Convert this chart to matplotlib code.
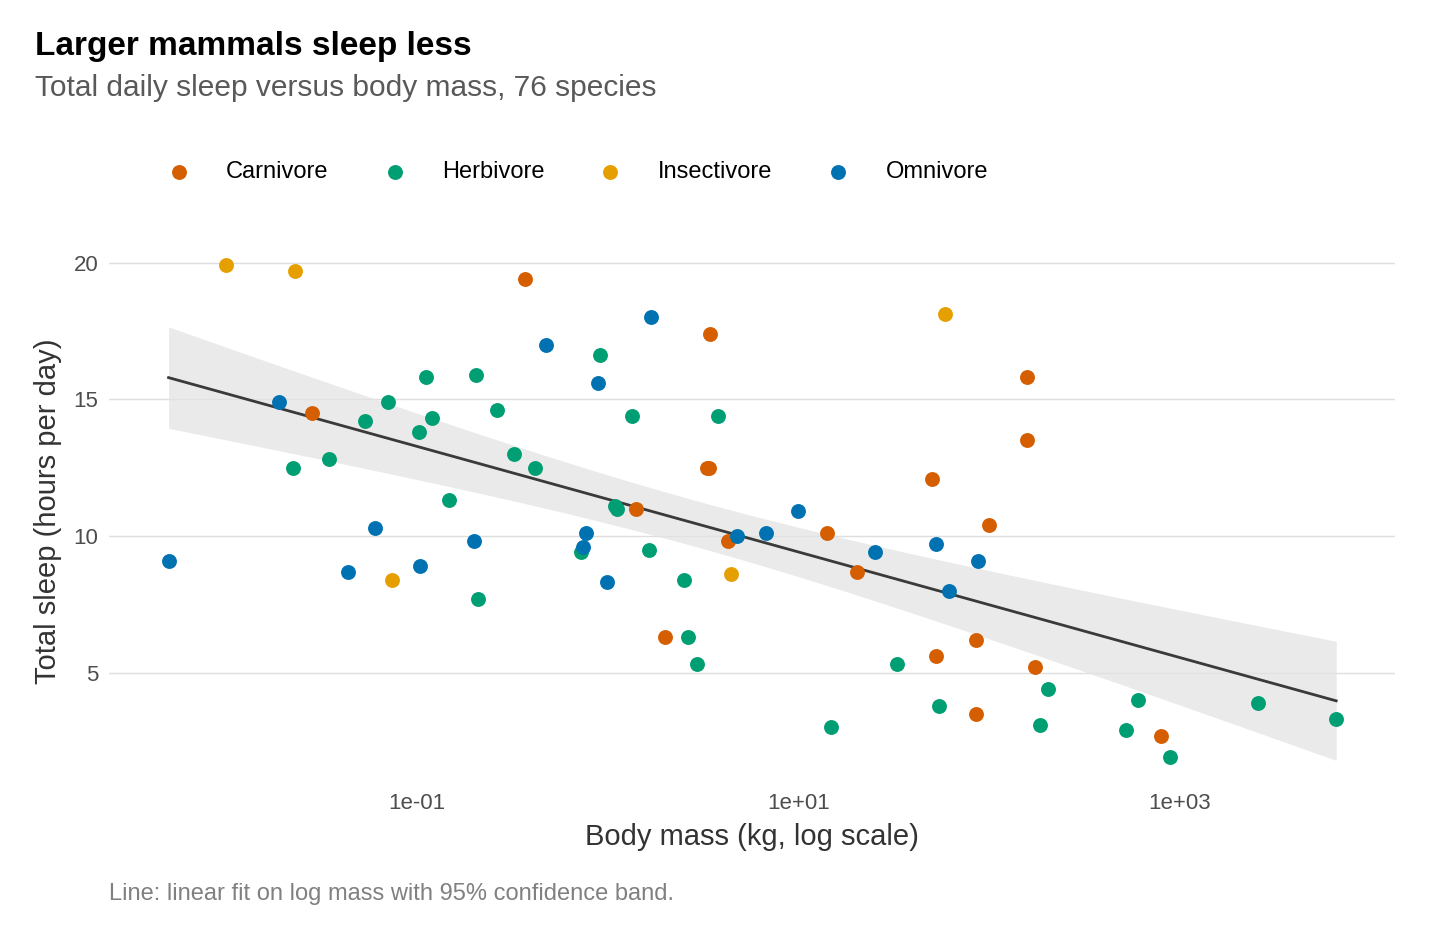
import numpy as np
import matplotlib.pyplot as plt

# log10 body mass (kg) and total sleep (hours) per diet group
insecti_logm = [-2.00, -1.64, -1.13, 0.65, 1.77]
insecti_sleep = [19.9, 19.7, 8.4, 8.6, 18.1]

carni_logm = [-1.55, -0.43, 0.54, 0.52, 0.53, 0.15, 0.30, 0.63, 1.15, 1.31,
              1.70, 1.72, 1.93, 1.93, 2.00, 2.20, 2.20, 2.24, 2.90]
carni_sleep = [14.5, 19.4, 17.4, 12.5, 12.5, 11.0, 6.3, 9.8, 10.1, 8.7,
               12.1, 5.6, 6.2, 3.5, 10.4, 15.8, 13.5, 5.2, 2.7]

omni_logm = [-2.30, -1.72, -1.36, -1.22, -0.98, -0.70, -0.32, -0.13, -0.11, -0.05,
             0.00, 0.23, 0.68, 0.83, 1.00, 1.40, 1.72, 1.79, 1.94]
omni_sleep = [9.1, 14.9, 8.7, 10.3, 8.9, 9.8, 17.0, 9.6, 10.1, 15.6,
              8.3, 18.0, 10.0, 10.1, 10.9, 9.4, 9.7, 8.0, 9.1]

herbi_logm = [-1.65, -1.46, -1.27, -1.15, -0.99, -0.95, -0.92, -0.83, -0.69, -0.68,
              -0.58, -0.49, -0.38, -0.14, -0.04, 0.04, 0.05, 0.13, 0.22, 0.40,
              0.42, 0.47, 0.58, 1.17, 1.52, 1.74, 2.27, 2.31, 2.72, 2.78,
              2.95, 3.41, 3.82]
herbi_sleep = [12.5, 12.8, 14.2, 14.9, 13.8, 15.8, 14.3, 11.3, 15.9, 7.7,
               14.6, 13.0, 12.5, 9.4, 16.6, 11.1, 11.0, 14.4, 9.5, 8.4,
               6.3, 5.3, 14.4, 3.0, 5.3, 3.8, 3.1, 4.4, 2.9, 4.0,
               1.9, 3.9, 3.3]

groups = [
    ("Carnivore", carni_logm, carni_sleep, "#D55E00"),
    ("Herbivore", herbi_logm, herbi_sleep, "#009E73"),
    ("Insectivore", insecti_logm, insecti_sleep, "#E69F00"),
    ("Omnivore", omni_logm, omni_sleep, "#0072B2"),
]

plt.rcParams['font.family'] = ['Liberation Sans', 'DejaVu Sans']
fig = plt.figure(figsize=(14.4, 9.4), dpi=100)
ax = fig.add_axes([0.076, 0.168, 0.893, 0.576])

# linear fit on log mass with 95% band
x_all = np.concatenate([np.array(g[1]) for g in groups])
y_all = np.concatenate([np.array(g[2]) for g in groups])
n = len(x_all)
b, a = np.polyfit(x_all, y_all, 1)
resid = y_all - (a + b * x_all)
s = np.sqrt(np.sum(resid ** 2) / (n - 2))
xm = x_all.mean()
sxx = np.sum((x_all - xm) ** 2)
xs = np.linspace(x_all.min(), x_all.max(), 200)
ys = a + b * xs
se = s * np.sqrt(1 / n + (xs - xm) ** 2 / sxx)
ax.fill_between(10 ** xs, ys - 1.993 * se, ys + 1.993 * se, color="#e3e3e3", alpha=0.75, lw=0, zorder=1)
ax.plot(10 ** xs, ys, color="#3a3a3a", lw=2, zorder=2)

for name, lm, sl, col in groups:
    ax.scatter(10 ** np.array(lm), sl, s=115, color=col, label=name, zorder=3, lw=0)

ax.set_xscale("log")
ax.set_xlim(10 ** -2.61, 10 ** 4.13)
ax.set_ylim(1.0, 20.8)
ax.set_xticks([1e-1, 1e1, 1e3])
ax.set_xticklabels(["1e-01", "1e+01", "1e+03"])
ax.xaxis.set_minor_locator(plt.NullLocator())
ax.set_yticks([5, 10, 15, 20])
ax.grid(axis="y", color="#dedede", lw=1)
ax.set_axisbelow(True)
for sp in ax.spines.values():
    sp.set_visible(False)
ax.tick_params(length=0, labelsize=16, labelcolor="#4d4d4d", pad=8)
ax.set_xlabel("Body mass (kg, log scale)", fontsize=21, color="#333333", labelpad=6)
ax.set_ylabel("Total sleep (hours per day)", fontsize=21, color="#333333", labelpad=8)

fig.legend(loc="center left", bbox_to_anchor=(0.093, 0.817), ncol=4, frameon=False,
           fontsize=17, handletextpad=1.0, columnspacing=1.8, markerscale=1.0)

fig.text(0.024, 0.951, "Larger mammals sleep less", fontsize=24, fontweight="bold", va="center")
fig.text(0.024, 0.906, "Total daily sleep versus body mass, 76 species", fontsize=21.5,
         color="#595959", va="center")
fig.text(0.076, 0.049, "Line: linear fit on log mass with 95% confidence band.", fontsize=17,
         color="#808080", va="center")

fig.savefig("out.png", dpi=100)
